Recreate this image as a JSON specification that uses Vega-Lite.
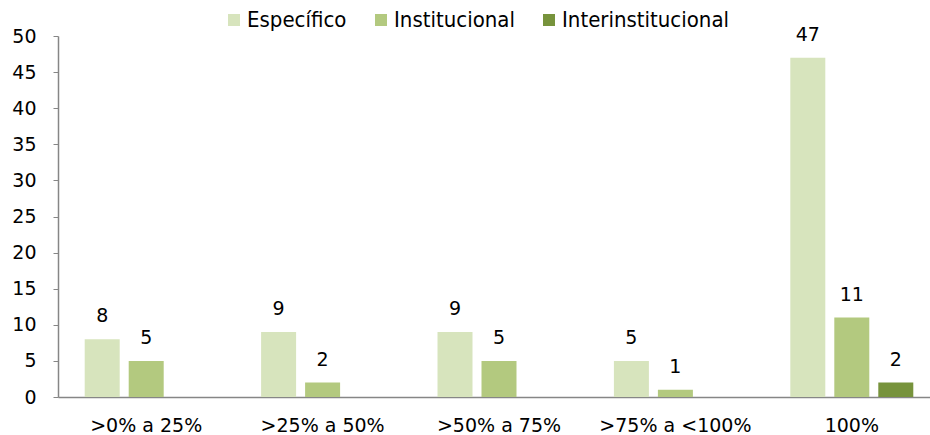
{
  "$schema": "https://vega.github.io/schema/vega-lite/v6.json",
  "width": 882,
  "height": 361,
  "autosize": {"type": "none"},
  "padding": {"left": 58, "top": 36, "right": 0, "bottom": 38},
  "background": "white",
  "config": {"view": {"stroke": null}, "font": "DejaVu Sans"},
  "data": {"values": [
    {"rango": ">0% a 25%", "tipo": "Específico", "valor": 8},
    {"rango": ">0% a 25%", "tipo": "Institucional", "valor": 5},
    {"rango": ">25% a 50%", "tipo": "Específico", "valor": 9},
    {"rango": ">25% a 50%", "tipo": "Institucional", "valor": 2},
    {"rango": ">50% a 75%", "tipo": "Específico", "valor": 9},
    {"rango": ">50% a 75%", "tipo": "Institucional", "valor": 5},
    {"rango": ">75% a <100%", "tipo": "Específico", "valor": 5},
    {"rango": ">75% a <100%", "tipo": "Institucional", "valor": 1},
    {"rango": "100%", "tipo": "Específico", "valor": 47},
    {"rango": "100%", "tipo": "Institucional", "valor": 11},
    {"rango": "100%", "tipo": "Interinstitucional", "valor": 2}
  ]},
  "encoding": {
    "x": {"field": "rango", "type": "nominal", "sort": [">0% a 25%", ">25% a 50%", ">50% a 75%", ">75% a <100%", "100%"],
      "scale": {"paddingInner": 0, "paddingOuter": 0},
      "axis": {"title": null, "labelAngle": 0, "ticks": false, "domainColor": "#868686", "domainWidth": 1.5, "labelFontSize": 19, "labelColor": "#000000", "labelPadding": 19}},
    "xOffset": {"field": "tipo", "type": "nominal", "scale": {"domain": ["Específico", "Institucional", "Interinstitucional"], "paddingInner": 0.2045, "paddingOuter": 0.607}},
    "y": {"field": "valor", "type": "quantitative", "scale": {"domain": [0, 50]},
      "axis": {"title": null, "values": [0,5,10,15,20,25,30,35,40,45,50], "grid": false, "domainColor": "#868686", "domainWidth": 1.5, "tickColor": "#868686", "tickSize": 5, "labelFontSize": 19, "labelColor": "#000000", "labelPadding": 17}}
  },
  "layer": [
    {"mark": {"type": "bar"},
      "encoding": {"color": {"field": "tipo", "type": "nominal",
        "scale": {"domain": ["Específico", "Institucional", "Interinstitucional"], "range": ["#D7E4BD", "#B3C97F", "#77933C"]},
        "legend": {"title": null, "orient": "none", "direction": "horizontal", "legendX": 165, "legendY": -27, "padding": 0, "symbolType": "square", "symbolSize": 144, "symbolStrokeWidth": 0, "labelFontSize": 22, "labelFont": "DejaVu Sans Condensed", "labelColor": "#000000", "labelLimit": 400, "columnPadding": 23, "labelOffset": 2}}}},
    {"mark": {"type": "text", "baseline": "bottom", "dy": -13, "fontSize": 19, "color": "#000000"},
      "encoding": {"text": {"field": "valor", "type": "quantitative"}}}
  ]
}
